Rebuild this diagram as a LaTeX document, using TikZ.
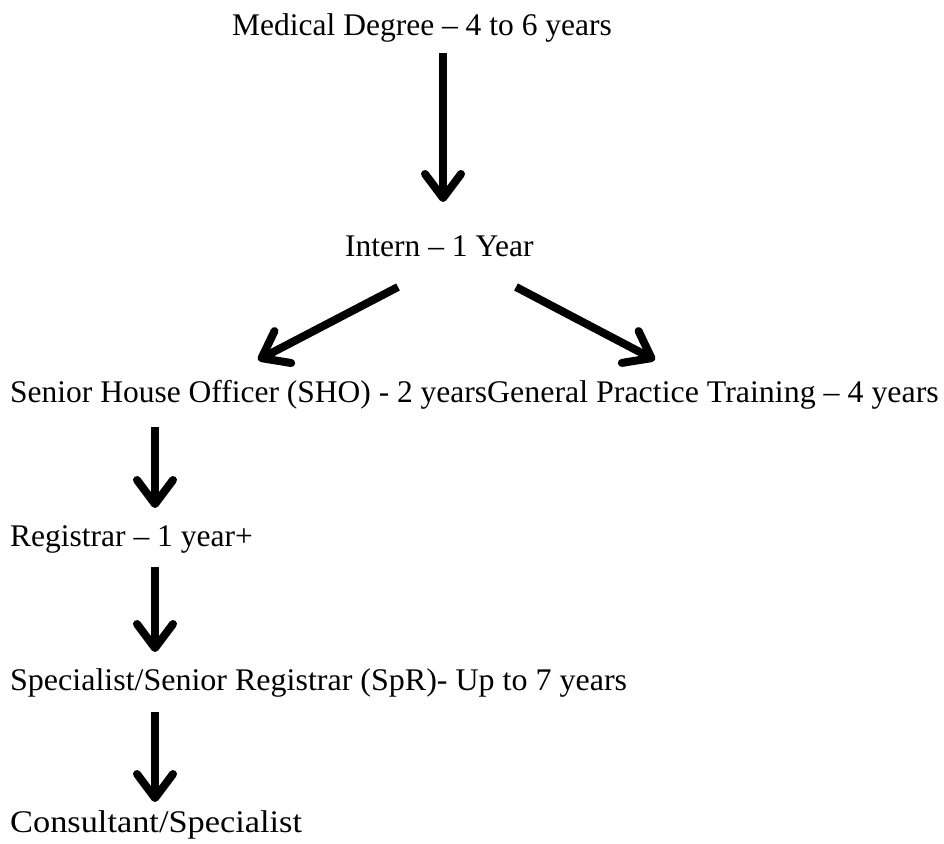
\documentclass[tikz,border=0pt]{standalone}
\usepackage{fontspec}
\setmainfont{Liberation Serif}
\usetikzlibrary{arrows.meta}
\begin{document}
\begin{tikzpicture}[x=1pt,y=-1pt,
  lbl/.style={inner sep=0pt,font=\fontsize{31.5}{36}\selectfont,anchor=base west},
  flow/.style={line width=8pt,-{Straight Barb[length=24pt,width=36pt,round]}}]
\useasboundingbox (0,0) rectangle (944,843);
\node[lbl] (med) at (232,36) {Medical Degree – 4 to 6 years};
\node[lbl] (intern) at (345,256) {Intern – 1 Year};
\node[lbl] (sho) at (10,402) {Senior House Officer (SHO) - 2 years};
\node[lbl] (gp) at (487,402) {\scalebox{1.013}[1]{General Practice Training – 4 years}};
\node[lbl] (reg) at (10,546) {Registrar – 1 year+};
\node[lbl] (spr) at (10,690) {\scalebox{1.016}[1]{Specialist/Senior Registrar (SpR)- Up to 7 years}};
\node[lbl] (con) at (10,832) {\scalebox{1.09}[1]{Consultant/Specialist}};
\coordinate (a1s) at (443,53);  \coordinate (a1e) at (443,202);
\coordinate (a2s) at (398,287); \coordinate (a2e) at (258,360);
\coordinate (a3s) at (516,287); \coordinate (a3e) at (655,360);
\coordinate (a4s) at (155,427); \coordinate (a4e) at (155,508);
\coordinate (a5s) at (155,567); \coordinate (a5e) at (155,652);
\coordinate (a6s) at (155,712); \coordinate (a6e) at (155,802);
\draw[flow] (a1s) -- (a1e);
\draw[flow] (a2s) -- (a2e);
\draw[flow] (a3s) -- (a3e);
\draw[flow] (a4s) -- (a4e);
\draw[flow] (a5s) -- (a5e);
\draw[flow] (a6s) -- (a6e);
\end{tikzpicture}
\end{document}
